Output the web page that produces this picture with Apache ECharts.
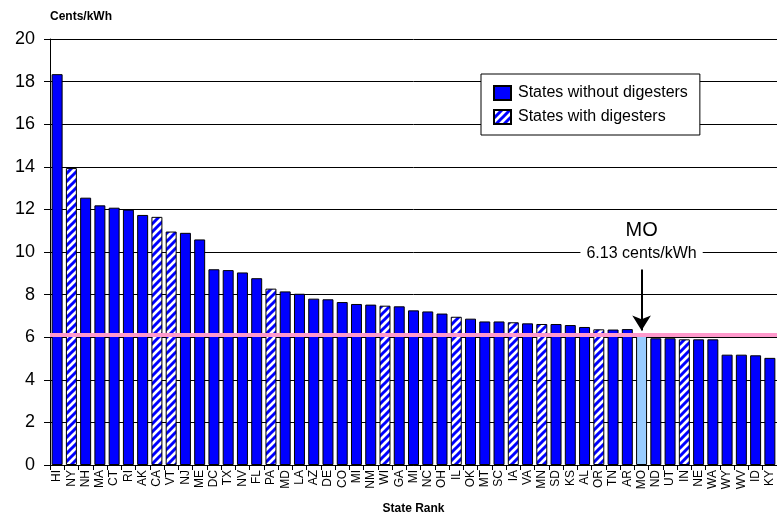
<!DOCTYPE html>
<html>
<head>
<meta charset="utf-8">
<script src="https://cdn.jsdelivr.net/npm/echarts@6/dist/echarts.min.js"></script>
<style>html,body{margin:0;padding:0;background:#fff}#c{width:777px;height:523px}</style>
</head>
<body>
<div id="c"></div>
<script>
const states = ['HI','NY','NH','MA','CT','RI','AK','CA','VT','NJ','ME','DC','TX','NV','FL','PA','MD','LA','AZ','DE','CO','MI','NM','WI','GA','MI','NC','OH','IL','OK','MT','SC','IA','VA','MN','SD','KS','AL','OR','TN','AR','MO','ND','UT','IN','NE','WA','WY','WV','ID','KY'];
const prices = [18.35,13.94,12.55,12.19,12.08,11.99,11.74,11.65,10.96,10.90,10.59,9.19,9.15,9.04,8.77,8.28,8.15,8.04,7.81,7.78,7.65,7.56,7.53,7.48,7.45,7.26,7.21,7.11,6.96,6.87,6.74,6.74,6.70,6.65,6.62,6.62,6.57,6.48,6.37,6.36,6.38,6.15,5.95,5.95,5.90,5.90,5.90,5.18,5.18,5.15,5.03];
const digesterStates = ['NY','CA','VT','PA','WI','IL','IA','MN','OR','IN'];
const highlightState = 'MO';
const moRate = 6.1;
const moLabel = '6.13 cents/kWh';
const yTicks = {min: 0, max: 20, interval: 2};

const moIdx = states.indexOf(highlightState);

// hatched pattern
const pc = document.createElement('canvas');
pc.width = 8; pc.height = 8;
const g = pc.getContext('2d');
g.fillStyle = '#ffffff'; g.fillRect(0,0,8,8);
g.strokeStyle = '#0000ff'; g.lineWidth = 3;
g.beginPath();
g.moveTo(-4,4); g.lineTo(4,-4);
g.moveTo(0,8); g.lineTo(8,0);
g.moveTo(4,12); g.lineTo(12,4);
g.stroke();
const hatch = {image: pc, repeat: 'repeat'};

const dataWithout = prices.map((v,i) => {
  if (digesterStates.includes(states[i])) return '-';
  if (i === moIdx) return {value: v, itemStyle: {color: '#99ccff'}};
  return v;
});
const dataWith = prices.map((v,i) => digesterStates.includes(states[i]) ? v : '-');

const FONT = 'Liberation Sans, Arial, sans-serif';
const chart = echarts.init(document.getElementById('c'), null, {renderer: 'canvas'});
chart.setOption({
  animation: false,
  backgroundColor: '#fff',
  textStyle: {fontFamily: FONT},
  title: {text: 'Cents/kWh', left: 50, top: 11, padding: 0, textStyle: {fontSize: 12, fontWeight: 'bold', color: '#000', fontFamily: FONT}},
  grid: {left: 50, right: -3, top: 39, bottom: 58},
  legend: {
    orient: 'vertical', left: 481, top: 74,
    backgroundColor: '#fff', borderColor: '#000', borderWidth: 1,
    padding: [11, 12, 10, 12], itemGap: 8, itemWidth: 17, itemHeight: 14,
    icon: 'rect',
    textStyle: {fontSize: 16, lineHeight: 16, color: '#000', fontFamily: FONT, padding: [0, 0, 0, 2]},
    data: ['States without digesters', 'States with digesters']
  },
  xAxis: {
    type: 'category', data: states,
    name: 'State Rank', nameLocation: 'middle', nameGap: 38,
    nameTextStyle: {fontSize: 12, fontWeight: 'bold', color: '#000', fontFamily: FONT},
    axisLine: {lineStyle: {color: '#000', width: 1}},
    axisTick: {show: true, alignWithLabel: false, length: 5, lineStyle: {color: '#000'}},
    axisLabel: {rotate: 90, interval: 0, fontSize: 12, color: '#000', margin: 5, fontFamily: FONT}
  },
  yAxis: {
    type: 'value', min: yTicks.min, max: yTicks.max, interval: yTicks.interval,
    axisLine: {show: true, lineStyle: {color: '#000'}},
    axisTick: {show: true, length: 6, lineStyle: {color: '#000'}},
    axisLabel: {fontSize: 18, color: '#000', margin: 15, fontFamily: FONT},
    splitLine: {lineStyle: {color: '#000', width: 1}}
  },
  series: [
    {
      name: 'States without digesters', type: 'bar', data: dataWithout,
      barWidth: '77%', barGap: '-100%',
      itemStyle: {color: '#0000ff', borderColor: '#000', borderWidth: 1},
      markLine: {
        silent: true, animation: false,
        symbol: ['none', 'none'],
        label: {show: false},
        data: [
          {yAxis: moRate, lineStyle: {color: '#ff99cc', width: 4, type: 'solid'}},
          [
            {coord: [moIdx, 9.18], symbol: 'none', lineStyle: {color: '#000', width: 2, type: 'solid'}},
            {coord: [moIdx, 6.32], symbol: 'arrow', symbolSize: [14, 15]}
          ]
        ]
      },
      markPoint: {
        silent: true, symbol: 'circle', symbolSize: 0,
        data: [
          {coord: [moIdx, 10.99], value: 'MO', label: {show: true, position: 'inside', formatter: 'MO', fontSize: 20, color: '#000', fontFamily: FONT}},
          {coord: [moIdx, 9.93], value: moLabel, label: {show: true, position: 'inside', formatter: moLabel, fontSize: 16, color: '#000', backgroundColor: '#fff', padding: [1, 6], fontFamily: FONT}}
        ]
      }
    },
    {
      name: 'States with digesters', type: 'bar', data: dataWith,
      barWidth: '77%', barGap: '-100%',
      itemStyle: {color: hatch, borderColor: '#000', borderWidth: 1}
    }
  ]
});
</script>
</body>
</html>
